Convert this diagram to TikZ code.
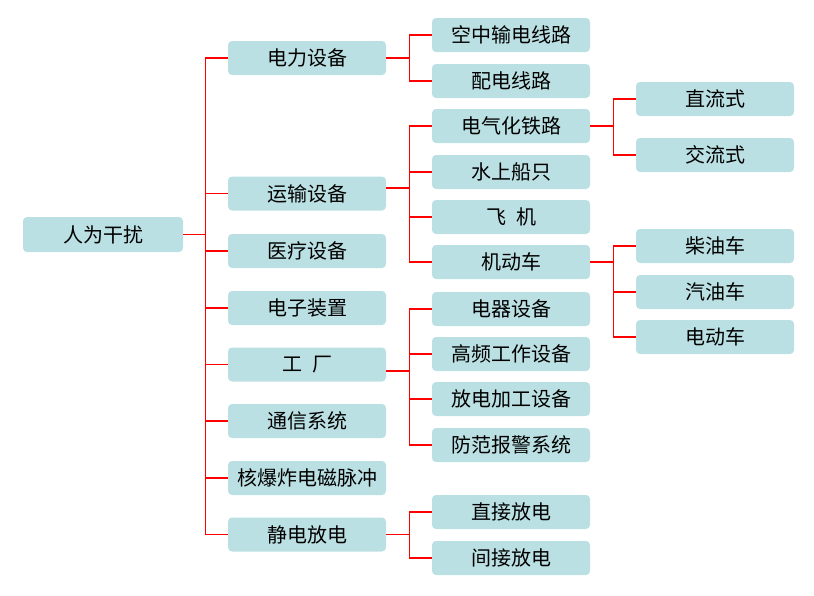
\documentclass[tikz,border=0pt]{standalone}
\usepackage{fontspec}
\setmainfont{Noto Sans CJK SC}
\usepackage{tikz}
\definecolor{boxblue}{HTML}{BBE0E3}

\begin{document}
\begin{tikzpicture}[x=1pt,y=-1pt,
	box/.style={fill=boxblue,rounded corners=4pt,minimum width=158pt,minimum height=34pt,inner sep=0pt,font=\fontsize{20}{20}\selectfont},
	link/.style={draw=red,line width=1.2pt}]
	\useasboundingbox (0,0) rectangle (814,595);
	% root
	\node[box,minimum width=160pt,minimum height=35pt] (renwei) at (103,234.5) {人为干扰};
	% level 1
	\node[box] (dianli) at (307,58) {电力设备};
	\node[box] (yunshu) at (307,193.5) {运输设备};
	\node[box] (yiliao) at (307,251) {医疗设备};
	\node[box] (dianzi) at (307,308) {电子装置};
	\node[box] (gongchang) at (307,364.5) {工\hspace{0.5em}厂};
	\node[box] (tongxin) at (307,421) {通信系统};
	\node[box] (hebao) at (307,478) {核爆炸电磁脉冲};
	\node[box] (jingdian) at (307,534.5) {静电放电};
	% level 2
	\node[box] (kongzhong) at (511,35) {空中输电线路};
	\node[box] (peidian) at (511,81) {配电线路};
	\node[box] (tielu) at (511,126) {电气化铁路};
	\node[box] (chuanzhi) at (511,172) {水上船只};
	\node[box] (feiji) at (511,217) {飞\hspace{0.5em}机};
	\node[box] (jidongche) at (511,262) {机动车};
	\node[box] (dianqi) at (511,309) {电器设备};
	\node[box] (gaopin) at (511,354) {高频工作设备};
	\node[box] (fangdian) at (511,399) {放电加工设备};
	\node[box] (fangfan) at (511,445) {防范报警系统};
	\node[box] (zhijie) at (511,512) {直接放电};
	\node[box] (jianjie) at (511,558) {间接放电};
	% level 3
	\node[box] (zhiliu) at (715,99) {直流式};
	\node[box] (jiaoliu) at (715,155) {交流式};
	\node[box] (chaiyou) at (715,246) {柴油车};
	\node[box] (qiyou) at (715,292) {汽油车};
	\node[box] (diandong) at (715,337) {电动车};
	% connectors
	\foreach \n in {dianli,yunshu,yiliao,dianzi,gongchang,tongxin,hebao,jingdian}
		\draw[link] (renwei.east) -- ++(22,0) |- (\n.west);
	\foreach \n in {kongzhong,peidian}
		\draw[link] (dianli.east) -- ++(23,0) |- (\n.west);
	\foreach \n in {tielu,chuanzhi,feiji,jidongche}
		\draw[link] ([yshift=5.5pt]yunshu.east) -- ++(23,0) |- (\n.west);
	\foreach \n in {dianqi,gaopin,fangdian,fangfan}
		\draw[link] ([yshift=-6.5pt]gongchang.east) -- ++(23,0) |- (\n.west);
	\foreach \n in {zhijie,jianjie}
		\draw[link] (jingdian.east) -- ++(23,0) |- (\n.west);
	\foreach \n in {zhiliu,jiaoliu}
		\draw[link] (tielu.east) -- ++(23,0) |- (\n.west);
	\foreach \n in {chaiyou,qiyou,diandong}
		\draw[link] (jidongche.east) -- ++(23,0) |- (\n.west);
\end{tikzpicture}
\end{document}
